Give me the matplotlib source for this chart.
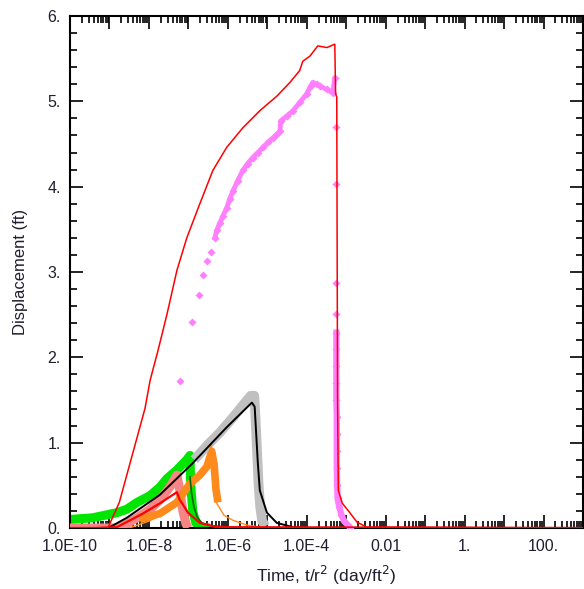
import numpy as np
import matplotlib
matplotlib.use("Agg")
import matplotlib.pyplot as plt
from matplotlib.ticker import FixedLocator, LogLocator, MultipleLocator, NullFormatter

plt.rcParams["font.family"] = ["Liberation Sans", "DejaVu Sans"]

# ---- data (log10 of t/r^2, displacement ft) ----
# magenta observations (upper well)
mag_logt = [-7.22, -6.91, -6.73, -6.63, -6.53, -6.43, -6.33, -6.28, -6.20, -6.12,
            -6.03, -5.95, -5.87, -5.75, -5.62, -5.50, -5.37, -5.24, -5.11, -4.98,
            -4.86, -4.75, -4.68, -4.66, -4.50, -4.35, -4.17, -4.00, -3.90, -3.85,
            -3.75, -3.67, -3.50, -3.34, -3.29, -3.27, -3.26, -3.25, -3.25, -3.25,
            -3.25, -3.25, -3.25, -3.25, -3.24, -3.24, -3.24, -3.24, -3.23, -3.22,
            -3.18, -3.12, -3.05, -2.95, -2.90]
mag_disp = [1.72, 2.41, 2.73, 2.96, 3.13, 3.24, 3.40, 3.49, 3.58, 3.66,
            3.75, 3.86, 3.95, 4.07, 4.19, 4.27, 4.34, 4.40, 4.46, 4.52,
            4.57, 4.62, 4.65, 4.77, 4.83, 4.89, 4.99, 5.09, 5.18, 5.22,
            5.20, 5.18, 5.14, 5.10, 5.27, 4.70, 4.03, 2.87, 2.51, 2.29,
            2.10, 1.90, 1.70, 1.50, 1.30, 1.10, 0.90, 0.70, 0.50, 0.35,
            0.25, 0.15, 0.08, 0.03, 0.00]

# big red model curve
red_logt = [-10.0, -9.04, -8.75, -8.10, -7.97, -7.77, -7.54, -7.29, -7.04, -6.71,
            -6.38, -6.03, -5.62, -5.19, -4.76, -4.43, -4.18, -4.10, -3.92, -3.72,
            -3.49, -3.29, -3.27, -3.24, -3.22, -3.20, -3.10, -2.91, -2.73, -2.48, 3.0]
red_disp = [0.0, 0.0, 0.30, 1.40, 1.73, 2.08, 2.51, 3.02, 3.40, 3.80,
            4.19, 4.46, 4.69, 4.89, 5.06, 5.22, 5.36, 5.47, 5.53, 5.65,
            5.63, 5.67, 5.09, 5.05, 1.50, 0.44, 0.29, 0.18, 0.07, 0.01, 0.0]

# gray observations + black model
gray_logt = [-6.85, -6.50, -6.20, -5.90, -5.60, -5.42, -5.33, -5.30, -5.26, -5.22,
             -5.18, -5.13, -5.05]
gray_disp = [0.80, 0.98, 1.12, 1.28, 1.45, 1.55, 1.55, 1.30, 0.90, 0.50,
             0.25, 0.08, 0.02]
blk_logt = [-10.0, -9.0, -8.99, -8.56, -7.72, -6.89, -6.03, -5.39, -5.32, -5.24,
            -5.19, -5.01, -4.76, -4.35, -3.92]
blk_disp = [0.0, 0.0, 0.01, 0.12, 0.39, 0.76, 1.18, 1.47, 1.42, 0.76,
            0.44, 0.18, 0.06, 0.01, 0.0]

# green observations + dark green model
grn_logt = [-10.0, -9.42, -8.81, -8.56, -8.30, -7.97, -7.72, -7.54, -7.29, -7.04,
            -6.96, -6.94, -6.89, -6.81, -6.71, -6.46]
grn_disp = [0.10, 0.12, 0.18, 0.22, 0.30, 0.38, 0.48, 0.58, 0.68, 0.80,
            0.85, 0.50, 0.20, 0.06, 0.01, 0.0]
dgr_logt = [-6.96, -6.92, -6.86, -6.78, -6.66, -6.46, -6.00, -5.50]
dgr_disp = [0.60, 0.41, 0.25, 0.13, 0.06, 0.03, 0.01, 0.0]

# orange observations + orange model
org_logt = [-8.23, -7.72, -7.29, -6.96, -6.71, -6.53, -6.41, -6.35, -6.30, -6.25]
org_disp = [0.10, 0.17, 0.30, 0.52, 0.62, 0.72, 0.90, 0.75, 0.45, 0.30]
orl_logt = [-8.50, -8.00, -7.50, -7.00, -6.60, -6.42, -6.38, -6.33, -6.28, -6.10,
            -5.87, -5.52, -5.19, -4.70]
orl_disp = [0.0, 0.08, 0.20, 0.45, 0.70, 0.98, 0.70, 0.45, 0.29, 0.15,
            0.09, 0.035, 0.01, 0.0]

# salmon observations + small red model
sal_logt = [-10.0, -8.80, -8.56, -8.30, -7.97, -7.72, -7.47, -7.29, -7.22, -7.14,
            -7.06, -7.01]
sal_disp = [0.0, 0.0, 0.05, 0.12, 0.22, 0.33, 0.48, 0.62, 0.45, 0.20,
            0.05, 0.0]
rsm_logt = [-10.0, -9.40, -8.81, -8.15, -7.72, -7.29, -7.22, -7.16, -7.01, -6.71,
            -6.28, 3.0]
rsm_disp = [0.0, 0.0, 0.01, 0.17, 0.29, 0.42, 0.33, 0.29, 0.18, 0.06,
            0.01, 0.0]

x_tick_exp = [-10, -8, -6, -4, -2, 0, 2]
x_tick_labels = ["1.0E-10", "1.0E-8", "1.0E-6", "1.0E-4", "0.01", "1.", "100."]
y_ticks = [0, 1, 2, 3, 4, 5, 6]
y_tick_labels = ["0.", "1.", "2.", "3.", "4.", "5.", "6."]


def tt(v):
    return 10.0 ** np.asarray(v)


fig = plt.figure(figsize=(5.84, 5.89), dpi=100)
ax = fig.add_axes([70 / 584, 61 / 589, 513 / 584, 512 / 589])
ax.set_xscale("log")

# observation bands
ax.plot(tt(grn_logt), grn_disp, color="#00e600", lw=6.5, solid_capstyle="butt", zorder=2)
ax.plot(tt(sal_logt), sal_disp, color="#f78585", lw=6.5, solid_capstyle="butt", zorder=3)
ax.plot(tt(org_logt), org_disp, color="#ff8a1c", lw=5.5, solid_capstyle="butt", zorder=3)
ax.plot(tt(gray_logt), gray_disp, color="#c0c0c0", lw=7, solid_capstyle="butt", zorder=3)
ax.plot(tt(mag_logt), mag_disp, ls="none", marker="D", ms=4, mec="none",
        color="#ff7fff", zorder=4)
ax.plot(tt(mag_logt[6:35]), mag_disp[6:35], color="#ff7fff", lw=3.5, zorder=4)
ax.plot(tt(mag_logt[39:]), mag_disp[39:], color="#ff7fff", lw=4.5, zorder=4)

# model curves
ax.plot(tt(orl_logt), orl_disp, color="#ff8a1c", lw=1.0, zorder=5)
ax.plot(tt(dgr_logt), dgr_disp, color="#006400", lw=1.2, zorder=5)
ax.plot(tt(blk_logt), blk_disp, color="black", lw=1.4, zorder=6)
ax.plot(tt(rsm_logt), rsm_disp, color="#ff0000", lw=1.6, zorder=6)
ax.plot(tt(red_logt), red_disp, color="#ff0000", lw=1.1, zorder=7)

ax.set_xlim(1e-10, 1e3)
ax.set_ylim(0, 6)

# x ticks: every decade, labels every second one
major_exp = list(range(-10, 4))
ax.xaxis.set_major_locator(FixedLocator(tt(major_exp)))
lab = {e: s for e, s in zip(x_tick_exp, x_tick_labels)}
ax.set_xticklabels([lab.get(e, "") for e in major_exp])
ax.xaxis.set_minor_locator(LogLocator(base=10, subs=np.arange(2, 10), numticks=100))
ax.xaxis.set_minor_formatter(NullFormatter())

ax.set_yticks(y_ticks)
ax.set_yticklabels(y_tick_labels)
ax.yaxis.set_minor_locator(MultipleLocator(0.2))

ax.tick_params(which="both", direction="in", top=True, right=True, width=1.2,
               colors="black", labelcolor="#1e1e2e", labelsize=11.5)
ax.tick_params(which="major", length=9.5)
ax.tick_params(which="minor", length=5)
ax.tick_params(axis="x", pad=8)
ax.tick_params(axis="y", pad=6.5)
for s in ax.spines.values():
    s.set_linewidth(1.5)

ax.set_xlabel("Time, t/r$^2$ (day/ft$^2$)", fontsize=12.5, color="#1e1e2e", labelpad=7)
ax.set_ylabel("Displacement (ft)", fontsize=12, color="#1e1e2e", labelpad=14)

fig.savefig("out.png", dpi=100)
